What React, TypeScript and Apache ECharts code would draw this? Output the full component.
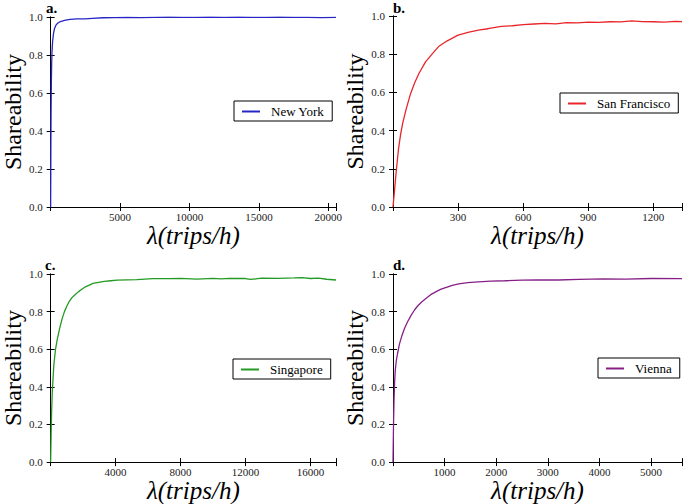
import React, { useEffect, useRef } from "react";
import * as echarts from "echarts";

// ---- data ----
const nyX = [0, 15, 30, 50, 75, 100, 140, 200, 280, 380, 500, 700, 1000, 1400, 1900, 2500, 3000, 3800, 4600, 5500, 6500, 7500, 8500, 9500, 10500, 11500, 12500, 13500, 14500, 15500, 16500, 17500, 18500, 19500, 20550];
const nyY = [0, 0.3, 0.5, 0.65, 0.76, 0.82, 0.87, 0.91, 0.94, 0.957, 0.967, 0.976, 0.982, 0.987, 0.99, 0.99, 0.993, 0.996, 0.997, 0.998, 0.997, 0.998, 0.999, 0.998, 0.998, 0.999, 0.998, 0.999, 0.998, 0.998, 0.999, 0.998, 0.998, 0.997, 0.998];

const sfX = [0, 8, 16, 25, 35, 45, 60, 80, 100, 120, 150, 180, 210, 250, 300, 350, 400, 430, 450, 500, 550, 600, 650, 700, 750, 800, 850, 900, 950, 1000, 1050, 1100, 1150, 1200, 1250, 1300, 1332];
const sfY = [0, 0.1, 0.2, 0.3, 0.38, 0.44, 0.51, 0.59, 0.65, 0.7, 0.76, 0.8, 0.84, 0.87, 0.9, 0.915, 0.927, 0.932, 0.936, 0.946, 0.949, 0.955, 0.958, 0.961, 0.959, 0.965, 0.964, 0.968, 0.967, 0.97, 0.969, 0.975, 0.971, 0.97, 0.968, 0.972, 0.971];

const sgX = [0, 30, 60, 100, 150, 200, 300, 400, 550, 700, 850, 1000, 1150, 1300, 1500, 1700, 1900, 2100, 2350, 2600, 2950, 3300, 3700, 4100, 4700, 5300, 6300, 7300, 8000, 9000, 10000, 10500, 11000, 12000, 12300, 13000, 14000, 15000, 15500, 16000, 16500, 17000, 17575];
const sgY = [0, 0.15, 0.27, 0.37, 0.45, 0.52, 0.6, 0.65, 0.71, 0.76, 0.8, 0.83, 0.855, 0.873, 0.89, 0.905, 0.918, 0.93, 0.94, 0.95, 0.956, 0.961, 0.964, 0.967, 0.969, 0.97, 0.975, 0.975, 0.977, 0.973, 0.977, 0.974, 0.977, 0.976, 0.971, 0.978, 0.977, 0.979, 0.981, 0.976, 0.978, 0.972, 0.968];

const viX = [0, 10, 20, 32, 45, 64, 90, 127, 170, 223, 280, 350, 420, 478, 550, 637, 730, 828, 920, 1019, 1150, 1274, 1450, 1656, 1900, 2166, 2500, 2800, 3200, 3600, 4076, 4500, 5000, 5600];
const viY = [0, 0.2, 0.33, 0.43, 0.49, 0.54, 0.58, 0.63, 0.67, 0.71, 0.745, 0.78, 0.81, 0.83, 0.85, 0.87, 0.89, 0.905, 0.918, 0.928, 0.94, 0.948, 0.954, 0.958, 0.962, 0.964, 0.967, 0.968, 0.968, 0.971, 0.974, 0.973, 0.976, 0.975];

const names = ["New York", "San Francisco", "Singapore", "Vienna"];
const xMaxes = [20550, 1332, 17575, 5600];
const xIntervals = [5000, 300, 4000, 1000];
const colors = ["#2626c4", "#e8262a", "#239a23", "#862086"];
const panelLetters = ["a.", "b.", "c.", "d."];
const yTicks = [0, 0.2, 0.4, 0.6, 0.8, 1.0];

const serif = "Liberation Serif";

export default function App() {
  const ref = useRef<HTMLDivElement>(null);
  useEffect(() => {
    document.body.style.margin = "0";
    const chart = echarts.init(ref.current!, null, { renderer: "svg" });
    const grids = [
      { left: 45, top: 17, width: 291, height: 190 },
      { left: 393, top: 16, width: 291, height: 191 },
      { left: 45, top: 274, width: 291, height: 191 },
      { left: 393, top: 274, width: 291, height: 191 },
    ];
    const dataSets = [
      nyX.map((x, i) => [x, nyY[i]]),
      sfX.map((x, i) => [x, sfY[i]]),
      sgX.map((x, i) => [x, sgY[i]]),
      viX.map((x, i) => [x, viY[i]]),
    ];
    const legendPos = [
      { left: 234, top: 101 },
      { left: 560, top: 93 },
      { left: 233, top: 359 },
      { left: 598, top: 358 },
    ];
    const labelPos = [
      { x: 46, y: 0 },
      { x: 393, y: 0 },
      { x: 45, y: 257 },
      { x: 393, y: 257 },
    ];
    const axisLine = { show: true, lineStyle: { color: "#000", width: 1 } };
    const tick = { show: true, inside: true, length: 4, lineStyle: { color: "#000" } };
    const xAxes: any[] = [];
    const yAxes: any[] = [];
    for (let i = 0; i < 4; i++) {
      const interval = xIntervals[i];
      xAxes.push({
        type: "value",
        gridIndex: i,
        position: "bottom",
        min: 0,
        max: xMaxes[i],
        interval,
        axisLine,
        axisTick: tick,
        splitLine: { show: false },
        axisLabel: {
          fontFamily: serif,
          fontSize: 11,
          color: "#222",
          margin: 4,
          formatter: (v: number) => (v === 0 || v % interval !== 0 ? "" : String(v)),
        },
        name: "λ(trips/h)",
        nameLocation: "middle",
        nameGap: 15,
        nameTextStyle: { fontFamily: serif, fontSize: 25, fontStyle: "italic", color: "#000" },
      });
      xAxes.push({
        type: "value",
        gridIndex: i,
        position: "top",
        min: 0,
        max: xMaxes[i],
        interval,
        axisLine,
        axisTick: tick,
        splitLine: { show: false },
        axisLabel: { show: false },
      });
      yAxes.push({
        type: "value",
        gridIndex: i,
        position: "left",
        min: yTicks[0],
        max: yTicks[yTicks.length - 1],
        interval: 0.2,
        axisLine,
        axisTick: tick,
        splitLine: { show: false },
        axisLabel: {
          fontFamily: serif,
          fontSize: 11,
          color: "#222",
          margin: 8,
          formatter: (v: number) => v.toFixed(1),
        },
        name: "Shareability",
        nameLocation: "middle",
        nameGap: 21,
        nameTextStyle: { fontFamily: serif, fontSize: 24, color: "#000" },
      });
      yAxes.push({
        type: "value",
        gridIndex: i,
        position: "right",
        min: 0,
        max: 1,
        interval: 0.2,
        axisLine,
        axisTick: tick,
        splitLine: { show: false },
        axisLabel: { show: false },
      });
    }
    const option: any = {
      animation: false,
      backgroundColor: "#fff",
      grid: grids,
      xAxis: xAxes,
      yAxis: yAxes,
      legend: names.map((n, i) => ({
        data: [n],
        left: legendPos[i].left,
        top: legendPos[i].top,
        orient: "horizontal",
        backgroundColor: "#fff",
        borderColor: "#000",
        borderWidth: 1,
        borderRadius: 0,
        padding: [4, 8, 3, 8],
        itemWidth: 18,
        itemHeight: 2,
        icon: "rect",
        selectedMode: false,
        textStyle: { fontFamily: serif, fontSize: 13, color: "#000", padding: [0, 0, 0, 6] },
      })),
      series: names.map((n, i) => ({
        name: n,
        type: "line",
        xAxisIndex: 2 * i,
        yAxisIndex: 2 * i,
        data: dataSets[i],
        showSymbol: false,
        symbol: "none",
        color: colors[i],
        lineStyle: { color: colors[i], width: 1.3 },
        z: 1,
      })),
      graphic: panelLetters.map((t, i) => ({
        type: "text",
        x: labelPos[i].x,
        y: labelPos[i].y,
        style: {
          text: t,
          fontFamily: serif,
          fontSize: 15,
          fontWeight: "bold",
          fill: "#000",
          verticalAlign: "top",
        },
      })),
    };
    chart.setOption(option);
    return () => chart.dispose();
  }, []);
  return <div ref={ref} style={{ width: 685, height: 504 }} />;
}
